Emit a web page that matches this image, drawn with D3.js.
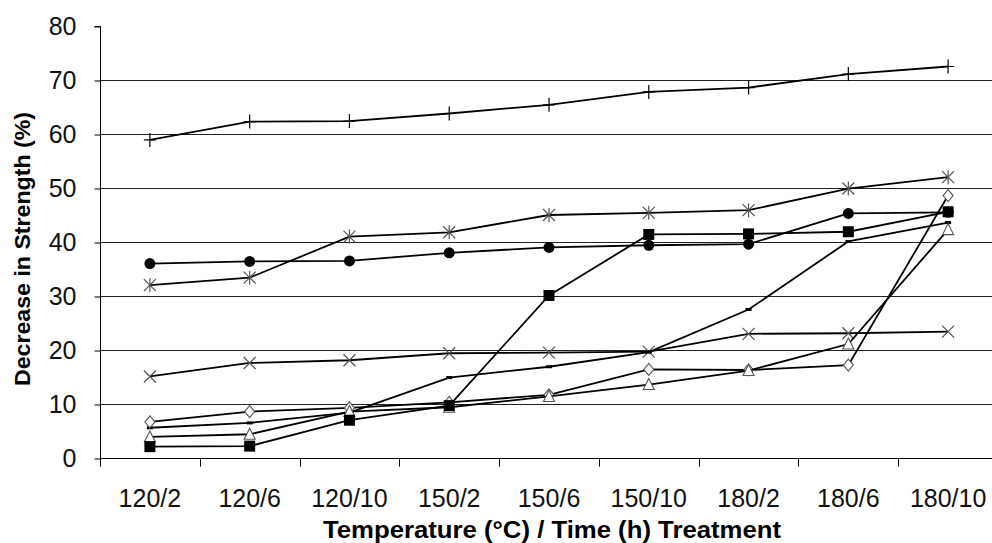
<!DOCTYPE html>
<html>
<head>
<meta charset="utf-8">
<script src="https://cdn.jsdelivr.net/npm/d3@7"></script>
<style>
  body { margin: 0; background: #fff; }
  svg { display: block; font-family: "Liberation Sans", Arial, sans-serif; }
</style>
</head>
<body>
<div class="chart"></div>
<script>
// Data
const treatments = ['120/2', '120/6', '120/10', '150/2', '150/6', '150/10', '180/2', '180/6', '180/10']
const yTicks = [0, 10, 20, 30, 40, 50, 60, 70, 80]

const plusValues = [58.9, 62.3, 62.4, 63.8, 65.4, 67.8, 68.6, 71.1, 72.5]
const asteriskValues = [32.0, 33.4, 41.0, 41.8, 45.0, 45.4, 45.9, 49.9, 52.0]
const circleValues = [36.0, 36.4, 36.5, 38.0, 39.0, 39.4, 39.6, 45.3, 45.5]
const squareValues = [2.1, 2.2, 7.0, 9.7, 30.1, 41.4, 41.5, 41.9, 45.6]
const crossValues = [15.1, 17.6, 18.1, 19.4, 19.5, 19.7, 23.0, 23.1, 23.4]
const dashValues = [5.6, 6.5, 8.4, 14.9, 16.9, 19.6, 27.5, 40.1, 43.6]
const diamondValues = [6.7, 8.6, 9.3, 10.3, 11.7, 16.4, 16.3, 17.2, 48.6]
const triangleValues = [3.9, 4.4, 8.6, 9.4, 11.4, 13.6, 16.2, 21.1, 42.3]

const series = [
    { marker: 'plus', values: plusValues },
    { marker: 'asterisk', values: asteriskValues },
    { marker: 'circle', values: circleValues },
    { marker: 'cross', values: crossValues },
    { marker: 'dash', values: dashValues },
    { marker: 'diamond', values: diamondValues },
    { marker: 'triangle', values: triangleValues },
    { marker: 'square', values: squareValues }
]

// Dimensions
const dimensions = {
    width: 992,
    height: 543,
    left: 100,
    right: 998,
    top: 26,
    bottom: 458
}

const svg = d3.select('.chart')
    .append('svg')
    .attr('width', dimensions.width)
    .attr('height', dimensions.height)

const xScale = d3.scaleBand()
    .domain(treatments)
    .range([dimensions.left, dimensions.right])
    .padding(0)

const yScale = d3.scaleLinear()
    .domain([0, 80])
    .range([dimensions.bottom, dimensions.top])

const cx = d => xScale(d) + xScale.bandwidth() / 2

// Gridlines (no line at the top value)
svg.append('g')
    .selectAll('line')
    .data(yTicks.filter(t => t > 0 && t < 80))
    .join('line')
    .attr('x1', dimensions.left)
    .attr('x2', dimensions.width)
    .attr('y1', d => Math.round(yScale(d)) + 0.5)
    .attr('y2', d => Math.round(yScale(d)) + 0.5)
    .attr('stroke', '#222')
    .attr('stroke-width', 1)

// Y axis
const yAxis = d3.axisLeft(yScale)
    .tickValues(yTicks)
    .tickSize(6)
    .tickPadding(18)

const yAxisGroup = svg.append('g')
    .attr('transform', `translate(${dimensions.left + 0.5}, 0.5)`)
    .call(yAxis)
yAxisGroup.select('.domain').attr('d', `M-6,${dimensions.top}H0V${dimensions.bottom}`)
yAxisGroup.selectAll('text')
    .attr('font-size', 25)
    .attr('font-family', '"Liberation Sans", Arial, sans-serif')
    .attr('fill', '#111')

// X axis: ticks at band boundaries, labels at band centres
const xAxisGroup = svg.append('g')
    .attr('transform', `translate(0, ${dimensions.bottom + 0.5})`)
xAxisGroup.append('line')
    .attr('x1', dimensions.left)
    .attr('x2', dimensions.width)
    .attr('stroke', '#000')
xAxisGroup.selectAll('.tick-mark')
    .data(treatments)
    .join('line')
    .classed('tick-mark', true)
    .attr('x1', d => Math.round(xScale(d)) + 0.5)
    .attr('x2', d => Math.round(xScale(d)) + 0.5)
    .attr('y1', 0)
    .attr('y2', 8)
    .attr('stroke', '#000')
xAxisGroup.selectAll('.tick-label')
    .data(treatments)
    .join('text')
    .classed('tick-label', true)
    .attr('x', d => cx(d))
    .attr('y', 48)
    .attr('text-anchor', 'middle')
    .attr('font-size', 25)
    .attr('fill', '#111')
    .text(d => d)

// Axis titles
svg.append('text')
    .attr('x', 552)
    .attr('y', 538)
    .attr('text-anchor', 'middle')
    .attr('font-size', 23)
    .attr('font-weight', 'bold')
    .attr('textLength', 458)
    .attr('lengthAdjust', 'spacingAndGlyphs')
    .text('Temperature (°C) / Time (h) Treatment')

svg.append('text')
    .attr('transform', 'translate(30, 249) rotate(-90)')
    .attr('text-anchor', 'middle')
    .attr('font-size', 22)
    .attr('font-weight', 'bold')
    .attr('textLength', 274)
    .attr('lengthAdjust', 'spacingAndGlyphs')
    .text('Decrease in Strength (%)')

// Lines and markers
const line = d3.line()
    .x((d, i) => cx(treatments[i]))
    .y(d => yScale(d))

function drawMarker(g, type) {
    if (type === 'plus') {
        g.append('path').attr('d', 'M-6,0H6M0,-7V7')
            .attr('stroke', '#000').attr('stroke-width', 1.2)
    } else if (type === 'asterisk') {
        g.append('path').attr('d', 'M-6,-6L6,6M-6,6L6,-6M0,-7V7')
            .attr('stroke', '#555').attr('stroke-width', 1.2)
    } else if (type === 'cross') {
        g.append('path').attr('d', 'M-6,-6L6,6M-6,6L6,-6')
            .attr('stroke', '#555').attr('stroke-width', 1.2)
    } else if (type === 'circle') {
        g.append('circle').attr('r', 5.5).attr('fill', '#000')
    } else if (type === 'square') {
        g.append('rect').attr('x', -5.5).attr('y', -5.5)
            .attr('width', 11).attr('height', 11).attr('fill', '#000')
    } else if (type === 'dash') {
        g.append('rect').attr('x', -3).attr('y', -1.5)
            .attr('width', 6).attr('height', 3).attr('fill', '#000')
    } else if (type === 'diamond') {
        g.append('path').attr('d', 'M0,-6L5,0L0,6L-5,0Z')
            .attr('fill', '#fff').attr('stroke', '#555').attr('stroke-width', 1.1)
    } else if (type === 'triangle') {
        g.append('path').attr('d', 'M0,-6L5.5,5L-5.5,5Z')
            .attr('fill', '#fff').attr('stroke', '#555').attr('stroke-width', 1.1)
    }
}

const plot = svg.append('g')

series.forEach(s => {
    const sg = plot.append('g')
    sg.append('path')
        .datum(s.values)
        .attr('d', line)
        .attr('fill', 'none')
        .attr('stroke', '#000')
        .attr('stroke-width', 1.8)

    sg.selectAll('g.marker')
        .data(s.values)
        .join('g')
        .classed('marker', true)
        .attr('transform', (d, i) => `translate(${cx(treatments[i])}, ${yScale(d)})`)
        .each(function() { drawMarker(d3.select(this), s.marker) })
})
</script>
</body>
</html>
